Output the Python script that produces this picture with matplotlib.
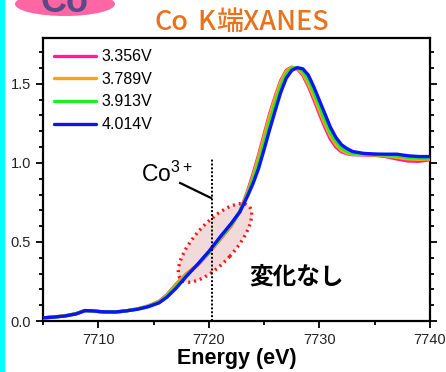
import matplotlib
matplotlib.use("Agg")
import matplotlib.pyplot as plt
from matplotlib.patches import Ellipse, Rectangle
from matplotlib.transforms import ScaledTranslation
from matplotlib.ticker import MultipleLocator

plt.rcParams['font.family'] = ['Liberation Sans', 'Noto Sans CJK JP']
plt.rcParams['mathtext.fontset'] = 'custom'
plt.rcParams['mathtext.rm'] = 'Liberation Sans'
plt.rcParams['mathtext.it'] = 'Liberation Sans:italic'

# Co K-edge XANES spectra at four charge voltages
energy = [7705, 7706, 7707, 7708, 7708.8, 7709.5, 7710.5, 7711.5, 7712.5, 7713.5,
          7714.5, 7715.5, 7716.2, 7717, 7718, 7719, 7720, 7721, 7722, 7722.8,
          7723.5, 7724, 7724.5, 7725, 7725.5, 7726, 7726.5, 7727, 7727.5, 7728,
          7728.5, 7729, 7729.5, 7730, 7730.5, 7731, 7731.5, 7732, 7732.5, 7733,
          7734, 7735, 7736, 7737, 7738, 7739, 7740]

mu_3356 = [0.020, 0.026, 0.033, 0.047, 0.066, 0.064, 0.056, 0.056, 0.064, 0.076,
           0.095, 0.125, 0.165, 0.230, 0.300, 0.355, 0.430, 0.515, 0.600, 0.690,
           0.820, 0.930, 1.050, 1.180, 1.310, 1.420, 1.520, 1.585, 1.605, 1.595,
           1.555, 1.485, 1.400, 1.310, 1.225, 1.150, 1.100, 1.070, 1.058, 1.052,
           1.050, 1.048, 1.040, 1.025, 1.012, 1.010, 1.020]

mu_3789 = [0.020, 0.026, 0.033, 0.047, 0.066, 0.064, 0.056, 0.056, 0.064, 0.076,
           0.094, 0.123, 0.162, 0.226, 0.298, 0.357, 0.432, 0.518, 0.603, 0.692,
           0.810, 0.915, 1.035, 1.165, 1.295, 1.410, 1.510, 1.578, 1.603, 1.598,
           1.565, 1.500, 1.420, 1.330, 1.245, 1.170, 1.115, 1.080, 1.062, 1.055,
           1.052, 1.050, 1.045, 1.035, 1.025, 1.022, 1.025]

mu_3913 = [0.020, 0.025, 0.032, 0.046, 0.066, 0.064, 0.057, 0.057, 0.064, 0.075,
           0.092, 0.120, 0.157, 0.215, 0.292, 0.358, 0.436, 0.523, 0.608, 0.692,
           0.800, 0.895, 1.000, 1.125, 1.255, 1.375, 1.480, 1.560, 1.598, 1.602,
           1.580, 1.525, 1.445, 1.360, 1.270, 1.190, 1.135, 1.095, 1.072, 1.062,
           1.056, 1.053, 1.050, 1.045, 1.035, 1.030, 1.030]

mu_4014 = [0.020, 0.025, 0.032, 0.045, 0.066, 0.064, 0.058, 0.057, 0.064, 0.074,
           0.090, 0.115, 0.150, 0.205, 0.285, 0.360, 0.440, 0.530, 0.615, 0.690,
           0.790, 0.870, 0.965, 1.085, 1.210, 1.330, 1.445, 1.535, 1.585, 1.602,
           1.595, 1.555, 1.480, 1.395, 1.310, 1.225, 1.160, 1.115, 1.090, 1.072,
           1.060, 1.056, 1.055, 1.055, 1.045, 1.040, 1.040]

series = [("3.356V", mu_3356, "#FF1F8E"),
          ("3.789V", mu_3789, "#FFA214"),
          ("3.913V", mu_3913, "#1EF01E"),
          ("4.014V", mu_4014, "#0A14F5")]

co3_energy = 7720.25

fig = plt.figure(figsize=(4.46, 3.72), dpi=100)
ax = fig.add_axes([0.0964, 0.137, 0.8676, 0.761])

for label, mu, color in series:
    ax.plot(energy, mu, color=color, lw=2.4, label=label, zorder=3,
            solid_joinstyle='round', solid_capstyle='round')

ax.set_xlim(7705, 7740)
ax.set_ylim(0, 1.79)
ax.xaxis.set_major_locator(MultipleLocator(10))
ax.xaxis.set_minor_locator(MultipleLocator(5))
ax.yaxis.set_major_locator(MultipleLocator(0.5))
ax.yaxis.set_minor_locator(MultipleLocator(0.1))
ax.yaxis.set_major_formatter(matplotlib.ticker.FormatStrFormatter('%.1f'))

for side in ax.spines.values():
    side.set_linewidth(1.6)
ax.tick_params(which='both', direction='out', width=1.3, top=True, right=True,
               labelsize=10.5, labelcolor='#222222')
ax.tick_params(which='major', length=5)
ax.tick_params(which='minor', length=3)
ax.tick_params(axis='x', which='both', top=False)
ax.tick_params(axis='y', which='both', right=True)
ax.set_xlabel("Energy (eV)", fontsize=15.5, fontweight='bold', labelpad=1)

ax.legend(loc='upper left', frameon=False, fontsize=11.5, handlelength=2.6,
          handletextpad=0.35, labelspacing=0.48, borderaxespad=0.3,
          bbox_to_anchor=(0, 1))

# Unchanged region around the Co3+ feature
ell_trans = fig.dpi_scale_trans + ScaledTranslation(7720.56, 0.494, ax.transData)
ax.add_patch(Ellipse((0, 0), 1.0, 0.4, angle=47.7, transform=ell_trans,
                     facecolor='#F2DADA', edgecolor='#FF1010', lw=2.4,
                     linestyle=(0, (0.6, 1.2)), zorder=1))

ax.plot([co3_energy, co3_energy], [0, 1.03], color='black', lw=1.4,
        linestyle=(0, (1, 1)), zorder=4)
ax.plot([7717.4, 7720.2], [0.873, 0.778], color='black', lw=1.6, zorder=4)
ax.text(7713.9, 0.88, r"$\mathrm{Co}^{3+}$", fontsize=16.5, va='baseline', ha='left')
ax.text(7727.9, 0.28, "変化なし", fontsize=17, fontweight='bold',
        family=['Noto Sans CJK JP'], ha='center', va='center')

# Title and decorations around the plot
fig.add_artist(Rectangle((0, 0), 5 / 446, 1, transform=fig.transFigure,
                         color='#00FFFF', lw=0))
fig.add_artist(Ellipse((65 / 446, 1 - 4 / 372), 100 / 446, 24 / 372,
                       transform=fig.transFigure, color='#FF66A3', lw=0))
fig.text(41 / 446, 1 - 12 / 372, "Co", fontsize=26, fontweight='bold',
         color='#5B4A8A', ha='left', va='baseline')

title_color = '#E8731C'
title_y = 1 - 30 / 372
fig.text(155 / 446, title_y, "Co", fontsize=19.5, color=title_color,
         fontweight='medium', family=['Noto Sans CJK JP'], va='baseline')
fig.text(197 / 446, title_y, "K", fontsize=19.5, color=title_color, style='italic',
         fontweight='medium', family=['Noto Sans CJK JP'], va='baseline')
fig.text(216 / 446, title_y, "端XANES", fontsize=19.5, color=title_color,
         fontweight='medium', family=['Noto Sans CJK JP'], va='baseline')

fig.savefig("out.png", dpi=100)
